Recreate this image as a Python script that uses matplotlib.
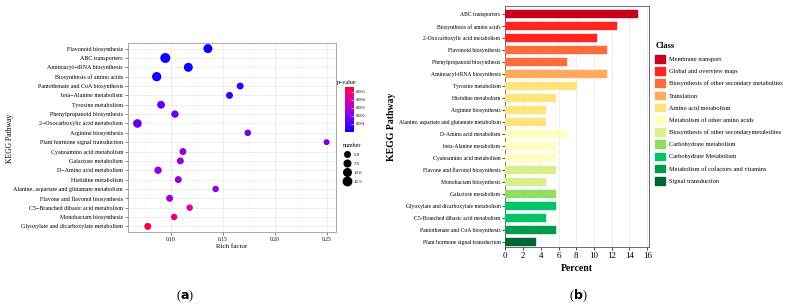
import matplotlib.pyplot as plt
import numpy as np
from matplotlib.colors import LinearSegmentedColormap
from matplotlib.patches import Patch
from matplotlib.lines import Line2D

plt.rcParams['font.family'] = ['Liberation Serif', 'DejaVu Serif']

# (a) bubble chart data, top to bottom
pathways_a = ["Flavonoid biosynthesis", "ABC transporters", "Aminoacyl\u2212tRNA biosynthesis",
              "Biosynthesis of amino acids", "Pantothenate and CoA biosynthesis",
              "beta\u2212Alanine metabolism", "Tyrosine metabolism", "Phenylpropanoid biosynthesis",
              "2\u2212Oxocarboxylic acid metabolism", "Arginine biosynthesis",
              "Plant hormone signal transduction", "Cyanoamino acid metabolism",
              "Galactose metabolism", "D\u2212Amino acid metabolism", "Histidine metabolism",
              "Alanine, aspartate and glutamate metabolism", "Flavone and flavonol biosynthesis",
              "C5\u2212Branched dibasic acid metabolism", "Monobactam biosynthesis",
              "Glyoxylate and dicarboxylate metabolism"]
rich_factor = [0.1356, 0.0945, 0.1167, 0.0862, 0.1667, 0.1564, 0.0904, 0.1038, 0.0676, 0.1740,
               0.2500, 0.1115, 0.1090, 0.0875, 0.1070, 0.1430, 0.0987, 0.1180, 0.1030, 0.0776]
gene_number = [10, 13, 10, 11, 5, 5, 7, 6, 9, 4, 3, 5, 5, 6, 5, 4, 5, 4, 4, 5]
p_value = [0.0001, 0.0002, 0.0002, 0.0003, 0.0008, 0.0009, 0.0015, 0.0016, 0.0014, 0.0017,
           0.0019, 0.0024, 0.0025, 0.0024, 0.0024, 0.0024, 0.0026, 0.0041, 0.0048, 0.0054]

# (b) bar chart data, top to bottom
pathways_b = ["ABC transporters", "Biosynthesis of amino acids", "2-Oxocarboxylic acid metabolism",
              "Flavonoid biosynthesis", "Phenylpropanoid biosynthesis", "Aminoacyl-tRNA biosynthesis",
              "Tyrosine metabolism", "Histidine metabolism", "Arginine biosynthesis",
              "Alanine, aspartate and glutamate metabolism", "D-Amino acid metabolism",
              "beta-Alanine metabolism", "Cyanoamino acid metabolism",
              "Flavone and flavonol biosynthesis", "Monobactam biosynthesis", "Galactose metabolism",
              "Glyoxylate and dicarboxylate metabolism", "C5-Branched dibasic acid metabolism",
              "Pantothenate and CoA biosynthesis", "Plant hormone signal transduction"]
percent = [14.94, 12.64, 10.34, 11.49, 6.90, 11.49, 8.05, 5.75, 4.60, 4.60,
           6.90, 5.75, 5.75, 5.75, 4.60, 5.75, 5.75, 4.60, 5.75, 3.45]
bar_class = [0, 1, 1, 2, 2, 3, 4, 4, 4, 4, 5, 5, 5, 6, 6, 7, 8, 8, 9, 10]
classes = ["Membrane transport", "Global and overview maps",
           "Biosynthesis of other secondary metabolites", "Translation", "Amino acid metabolism",
           "Metabolism of other amino acids", "Biosynthesis of other secondarymetabolites",
           "Carbohydrate metabolism", "Carbohydrate Metabolism",
           "Metabolism of cofactors and vitamins", "Signal transduction"]
class_colors = ["#C8001E", "#FF2622", "#FF6B3D", "#FFAA5E", "#FFE47E", "#FFFFC2",
                "#D9EF8B", "#8FDD63", "#00C466", "#009B4B", "#006633"]

fig = plt.figure(figsize=(7.88, 3.08), dpi=100)

# ---------- panel (a) ----------
ax1 = fig.add_axes([0.1624, 0.2468, 0.264, 0.6136])
cmap = LinearSegmentedColormap.from_list(
    "pv", [(0, "#0000FF"), (0.3, "#7400EE"), (0.5, "#A800D4"), (0.75, "#E400A0"), (1, "#FF0033")])
ypos_a = np.arange(len(pathways_a))[::-1]
sizes = [8.7 + 3.32 * n for n in gene_number]
ax1.scatter(rich_factor, ypos_a, s=sizes, c=p_value, cmap=cmap, vmin=0, vmax=0.0056,
            zorder=3, linewidths=0)
ax1.set_xlim(0.0585, 0.2591)
ax1.set_ylim(-0.6, len(pathways_a) - 0.4)
ax1.set_yticks(ypos_a)
ax1.set_yticklabels(pathways_a, fontsize=4.3)
ax1.set_xticks([0.10, 0.15, 0.20, 0.25])
ax1.set_xticklabels(["0.10", "0.15", "0.20", "0.25"], fontsize=4)
ax1.set_xticks([0.075, 0.125, 0.175, 0.225], minor=True)
ax1.grid(True, which='major', color='#EBEBEB', linewidth=0.6)
ax1.grid(True, which='minor', axis='x', color='#F4F4F4', linewidth=0.4)
ax1.set_axisbelow(True)
ax1.tick_params(axis='both', which='major', length=2, width=0.5, color='#555555', pad=1.5)
ax1.tick_params(axis='x', which='minor', length=0)
for sp in ax1.spines.values():
    sp.set_color('#A8A8A8')
    sp.set_linewidth(0.7)
ax1.set_xlabel("Rich factor", fontsize=5, labelpad=1.5)
fig.text(0.013, 0.55, "KEGG Pathway", rotation=90, fontsize=5.5, ha='center', va='center')

# colorbar legend
cax = fig.add_axes([345 / 788, 1 - 132 / 308, 9 / 788, 45 / 308])
sm = plt.cm.ScalarMappable(cmap=cmap, norm=plt.Normalize(0, 0.0056))
cb = fig.colorbar(sm, cax=cax)
cb.set_ticks([0.001, 0.002, 0.003, 0.004, 0.005])
cb.set_ticklabels(["0.001", "0.002", "0.003", "0.004", "0.005"])
cb.ax.tick_params(labelsize=3.2, length=2, width=0.4, color='white', pad=1.5, direction='in')
cb.outline.set_visible(False)
fig.text(337 / 788, 1 - 83 / 308, "p\u2212value", fontsize=4.3, va='center')

# size legend
leg_nums = [5.0, 7.5, 10.0, 12.5]
size_handles = [Line2D([], [], marker='o', linestyle='', color='black',
                       markersize=np.sqrt(8.7 + 3.32 * n), markeredgewidth=0) for n in leg_nums]
fig.legend(size_handles, ["5.0", "7.5", "10.0", "12.5"], title="number",
           loc='upper left', bbox_to_anchor=(339 / 788, 1 - 140 / 308), frameon=False,
           fontsize=3.5, title_fontsize=4.3, handletextpad=0.3, labelspacing=0.9,
           borderpad=0.2, alignment='left')

# ---------- panel (b) ----------
ax2 = fig.add_axes([505.3 / 788, 1 - 247 / 308, 143.7 / 788, 241 / 308])
ypos_b = np.arange(len(pathways_b))[::-1]
bar_colors = [class_colors[k] for k in bar_class]
ax2.barh(ypos_b, percent, height=0.68, color=bar_colors, edgecolor=bar_colors,
         linewidth=0.3, zorder=3)
ax2.set_xlim(0, 16.2)
ax2.set_ylim(-0.42, len(pathways_b) - 0.31)
ax2.set_yticks(ypos_b)
ax2.set_yticklabels(pathways_b, fontsize=4.1)
ax2.set_xticks(np.arange(0, 17, 2))
ax2.tick_params(axis='x', labelsize=6.5, length=2.5, width=0.5, pad=1)
ax2.tick_params(axis='y', length=2, width=0.5, pad=1.5)
ax2.grid(True, axis='x', color='#EBEBEB', linewidth=0.6)
ax2.set_axisbelow(True)
for sp in ax2.spines.values():
    sp.set_color('#555555')
    sp.set_linewidth(0.6)
ax2.set_xlabel("Percent", fontsize=7, fontweight='bold', labelpad=3)
fig.text(391 / 788, 1 - 127 / 308, "KEGG Pathway", rotation=90, fontsize=7,
         fontweight='bold', ha='center', va='center')

class_handles = [Patch(facecolor=c, edgecolor=c) for c in class_colors]
leg = fig.legend(class_handles, classes, title="Class", loc='upper left',
                 bbox_to_anchor=(651 / 788, 1 - 38 / 308), frameon=False, fontsize=4.6,
                 title_fontsize=6, handlelength=1.55, handleheight=1.45, labelspacing=0.72,
                 handletextpad=0.55, borderpad=0.2, alignment='left')
leg.get_title().set_fontweight('bold')

# captions
fig.text(185 / 788, 1 - 296 / 308, r"($\mathbf{a}$)", fontsize=9, ha='center', va='center')
fig.text(578 / 788, 1 - 296 / 308, r"($\mathbf{b}$)", fontsize=9, ha='center', va='center')

fig.savefig("out.png", dpi=100)
